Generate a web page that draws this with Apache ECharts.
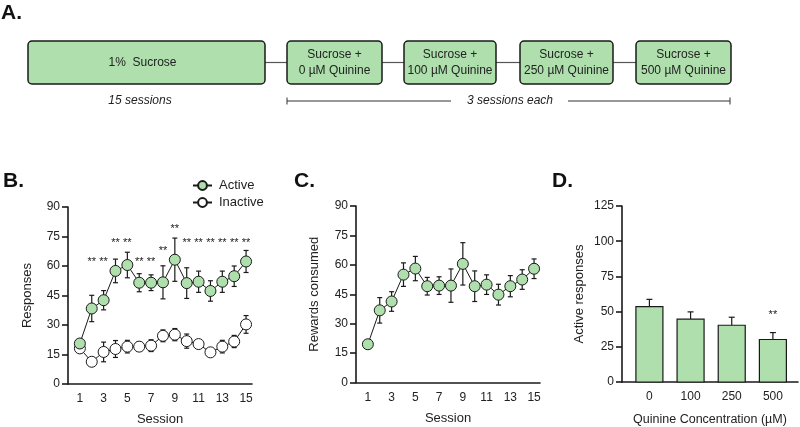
<!DOCTYPE html>
<html>
<head>
<meta charset="utf-8">
<script src="https://cdn.jsdelivr.net/npm/echarts@6/dist/echarts.min.js"></script>
<style>
html,body{margin:0;padding:0;background:#fff;}
#main{width:800px;height:427px;}
</style>
</head>
<body>
<div id="main"></div>
<script>
// ---------------- DATA ----------------
const sessions = [1, 2, 3, 4, 5, 6, 7, 8, 9, 10, 11, 12, 13, 14, 15];
const activeResp   = [20.6, 38.4, 42.6, 57.5, 60.5, 51.5, 51.5, 51.7, 63.2, 51.3, 52.0, 47.3, 52.0, 54.8, 62.3];
const activeSem    = [1.5, 6.7, 4.9, 6.0, 6.5, 4.6, 4.0, 8.4, 11.0, 7.8, 5.4, 5.2, 5.4, 5.2, 5.6];
const inactiveResp = [18.1, 11.3, 16.3, 17.8, 19.0, 19.0, 19.5, 24.5, 25.1, 21.8, 20.3, 16.1, 19.0, 21.6, 30.3];
const inactiveSem  = [1.5, 1.2, 5.0, 4.3, 3.2, 2.3, 3.0, 3.0, 3.1, 3.6, 1.2, 1.2, 3.2, 3.1, 4.5];
const sigSessions  = [2, 3, 4, 5, 6, 7, 8, 9, 10, 11, 12, 13, 14, 15];
const sigLevel     = [63.4, 63.4, 73.2, 73.2, 63.4, 63.4, 69.0, 80.4, 73.2, 73.2, 73.2, 73.2, 73.2, 73.2];
const sigLabel     = '**';

const rewards    = [19.5, 36.8, 41.3, 55.0, 58.1, 49.1, 49.4, 49.4, 60.5, 49.1, 49.9, 44.8, 49.1, 52.5, 58.0];
const rewardsSem = [1.2, 6.5, 5.0, 6.0, 6.2, 4.5, 4.5, 8.5, 10.8, 7.8, 5.0, 5.3, 5.4, 5.0, 5.0];

const quinineConc = ['0', '100', '250', '500'];
const quinineResp = [53.5, 44.6, 40.3, 30.2];
const quinineSem  = [5.2, 5.2, 5.7, 4.9];
const quinineSigIdx = [3];
const quinineSigLevel = [50];

const boxTop    = ['1%  Sucrose', 'Sucrose +', 'Sucrose +', 'Sucrose +', 'Sucrose +'];
const boxBottom = ['', '0 µM Quinine', '100 µM Quinine', '250 µM Quinine', '500 µM Quinine'];

// ---------------- STYLE ----------------
const FONT = 'Liberation Sans, Arial, Helvetica, sans-serif';
const GREEN = '#aedfad';
const INK = '#1a1a1a';
const TXT = '#222';

// ---------------- PANEL A (diagram) ----------------
const boxGeom = [[28, 237], [287, 95], [404, 92], [520, 93], [636, 95]];
const boxY = 41, boxH = 43, midY = boxY + boxH / 2;
const graphic = [];
boxGeom.forEach((g, i) => {
  graphic.push({
    type: 'rect', shape: { x: g[0], y: boxY, width: g[1], height: boxH, r: 4 },
    style: { fill: GREEN, stroke: INK, lineWidth: 1.5 }, z: 10
  });
  const cx = g[0] + g[1] / 2;
  if (boxBottom[i]) {
    graphic.push({ type: 'text', x: cx, y: midY - 8, z: 11,
      style: { text: boxTop[i], font: '12px ' + FONT, fill: TXT, align: 'center', verticalAlign: 'middle' } });
    graphic.push({ type: 'text', x: cx, y: midY + 8, z: 11,
      style: { text: boxBottom[i], font: '12px ' + FONT, fill: TXT, align: 'center', verticalAlign: 'middle' } });
  } else {
    graphic.push({ type: 'text', x: cx - 4, y: midY, z: 11,
      style: { text: boxTop[i], font: '12px ' + FONT, fill: TXT, align: 'center', verticalAlign: 'middle' } });
  }
  if (i < boxGeom.length - 1) {
    graphic.push({ type: 'line', shape: { x1: g[0] + g[1], y1: midY, x2: boxGeom[i + 1][0], y2: midY },
      style: { stroke: '#555', lineWidth: 1.2 }, z: 9 });
  }
});
graphic.push({ type: 'text', x: 140, y: 101, style: { text: '15 sessions', font: 'italic 12px ' + FONT, fill: TXT, align: 'center', verticalAlign: 'middle' } });
graphic.push({ type: 'text', x: 510, y: 101, style: { text: '3 sessions each', font: 'italic 12px ' + FONT, fill: TXT, align: 'center', verticalAlign: 'middle' } });
graphic.push({ type: 'line', shape: { x1: 287, y1: 101, x2: 451, y2: 101 }, style: { stroke: '#333', lineWidth: 1 } });
graphic.push({ type: 'line', shape: { x1: 568, y1: 101, x2: 730, y2: 101 }, style: { stroke: '#333', lineWidth: 1 } });
graphic.push({ type: 'line', shape: { x1: 287, y1: 97.5, x2: 287, y2: 104.5 }, style: { stroke: '#333', lineWidth: 1 } });
graphic.push({ type: 'line', shape: { x1: 730, y1: 97.5, x2: 730, y2: 104.5 }, style: { stroke: '#333', lineWidth: 1 } });
// panel letters
[['A.', 1, 13], ['B.', 3, 181], ['C.', 294, 181], ['D.', 552, 181]].forEach(l => {
  graphic.push({ type: 'text', x: l[1], y: l[2], style: { text: l[0], font: 'bold 21px ' + FONT, fill: '#111', align: 'left', verticalAlign: 'middle' } });
});

// ---------------- helpers ----------------
function errBars(xi, yi, xs, ys, es, upOnly, cap) {
  return {
    type: 'custom', xAxisIndex: xi, yAxisIndex: yi, z: 1, silent: true,
    encode: { x: 0, y: 1 },
    data: xs.map((x, i) => [x, ys[i], es[i]]),
    renderItem: function (params, api) {
      const x = api.value(0), y = api.value(1), e = api.value(2);
      const top = api.coord([x, y + e]);
      const bot = api.coord(upOnly ? [x, y] : [x, y - e]);
      const st = { stroke: INK, lineWidth: 1.2 };
      const ch = [
        { type: 'line', shape: { x1: top[0], y1: top[1], x2: bot[0], y2: bot[1] }, style: st },
        { type: 'line', shape: { x1: top[0] - cap, y1: top[1], x2: top[0] + cap, y2: top[1] }, style: st }
      ];
      if (!upOnly) ch.push({ type: 'line', shape: { x1: bot[0] - cap, y1: bot[1], x2: bot[0] + cap, y2: bot[1] }, style: st });
      return { type: 'group', children: ch };
    }
  };
}
function sigMarks(xi, yi, xs, ys, fs) {
  return {
    type: 'custom', xAxisIndex: xi, yAxisIndex: yi, z: 5, silent: true,
    encode: { x: 0, y: 1 },
    data: xs.map((x, i) => [x, ys[i]]),
    renderItem: function (params, api) {
      const p = api.coord([api.value(0), api.value(1)]);
      return { type: 'text', x: p[0], y: p[1] + 3,
        style: { text: sigLabel, font: fs + 'px ' + FONT, fill: INK, align: 'center', verticalAlign: 'middle' } };
    }
  };
}
function yAx(gi, max, interval, name, gap) {
  return {
    type: 'value', gridIndex: gi, min: 0, max: max, interval: interval,
    name: name, nameLocation: 'middle', nameGap: gap, nameRotate: 90,
    nameTextStyle: { fontSize: 13, color: TXT, fontFamily: FONT },
    axisLine: { show: true, onZero: false, lineStyle: { color: INK, width: 1.6 } },
    axisTick: { show: true, length: 6, lineStyle: { color: INK, width: 1.6 } },
    axisLabel: { fontSize: 12, color: TXT, fontFamily: FONT, margin: 8 },
    splitLine: { show: false }
  };
}
function xSess(gi) {
  return {
    type: 'value', gridIndex: gi, min: 0, max: 15.5, interval: 1,
    name: 'Session', nameLocation: 'middle', nameGap: 29,
    nameTextStyle: { fontSize: 13, color: TXT, fontFamily: FONT },
    axisLine: { show: true, onZero: false, lineStyle: { color: INK, width: 1.6 } },
    axisTick: { show: false },
    axisLabel: { fontSize: 12, color: TXT, fontFamily: FONT, margin: 9, showMaxLabel: false, showMinLabel: true,
      formatter: v => (Math.abs(v % 2 - 1) < 1e-6 ? String(v) : '') },
    splitLine: { show: false }
  };
}

const option = {
  animation: false,
  backgroundColor: '#fff',
  textStyle: { fontFamily: FONT },
  graphic: graphic,
  grid: [
    { left: 68, top: 207, width: 184, height: 177 },
    { left: 356, top: 206, width: 184, height: 176.5 },
    { left: 622, top: 206, width: 176, height: 176.5 }
  ],
  legend: {
    data: ['Active', 'Inactive'], orient: 'vertical', left: 187, top: 174,
    itemWidth: 19, itemHeight: 11, itemGap: 4,
    textStyle: { fontSize: 13, color: TXT, fontFamily: FONT, padding: [0, 0, 0, 2] }
  },
  xAxis: [
    xSess(0),
    xSess(1),
    {
      type: 'value', gridIndex: 2, min: -0.666, max: 3.61,
      name: 'Quinine Concentration (µM)', nameLocation: 'middle', nameGap: 31,
      nameTextStyle: { fontSize: 12.5, color: TXT, fontFamily: FONT },
      axisLine: { show: true, onZero: false, lineStyle: { color: INK, width: 1.6 } },
      axisTick: { show: false },
      axisLabel: { fontSize: 12, color: TXT, fontFamily: FONT, margin: 9,
        customValues: [0, 1, 2, 3], formatter: v => quinineConc[Math.round(v)] },
      splitLine: { show: false }
    }
  ],
  yAxis: [
    yAx(0, 90, 15, 'Responses', 34),
    yAx(1, 90, 15, 'Rewards consumed', 35),
    yAx(2, 125, 25, 'Active responses', 36)
  ],
  series: [
    errBars(0, 0, sessions, inactiveResp, inactiveSem, false, 2.5),
    errBars(0, 0, sessions, activeResp, activeSem, false, 2.5),
    {
      name: 'Inactive', type: 'line', xAxisIndex: 0, yAxisIndex: 0, z: 3,
      data: sessions.map((s, i) => [s, inactiveResp[i]]),
      symbol: 'circle', symbolSize: 11,
      itemStyle: { color: '#ffffff', borderColor: INK, borderWidth: 1 },
      lineStyle: { color: INK, width: 1 }
    },
    {
      name: 'Active', type: 'line', xAxisIndex: 0, yAxisIndex: 0, z: 4,
      data: sessions.map((s, i) => [s, activeResp[i]]),
      symbol: 'circle', symbolSize: 11,
      itemStyle: { color: GREEN, borderColor: INK, borderWidth: 1 },
      lineStyle: { color: INK, width: 1 }
    },
    sigMarks(0, 0, sigSessions, sigLevel, 11),
    errBars(1, 1, sessions, rewards, rewardsSem, false, 2.5),
    {
      name: 'Rewards', type: 'line', xAxisIndex: 1, yAxisIndex: 1, z: 4,
      data: sessions.map((s, i) => [s, rewards[i]]),
      symbol: 'circle', symbolSize: 11,
      itemStyle: { color: GREEN, borderColor: INK, borderWidth: 1 },
      lineStyle: { color: INK, width: 1 }
    },
    {
      type: 'custom', xAxisIndex: 2, yAxisIndex: 2, z: 2, silent: true,
      encode: { x: 0, y: 1 },
      data: quinineResp.map((v, i) => [i, v]),
      renderItem: function (params, api) {
        const top = api.coord([api.value(0), api.value(1)]);
        const base = api.coord([api.value(0), 0]);
        const w = 27;
        return { type: 'rect', shape: { x: top[0] - w / 2, y: top[1], width: w, height: base[1] - top[1] },
          style: { fill: GREEN, stroke: INK, lineWidth: 1.2 } };
      }
    },
    errBars(2, 2, quinineResp.map((v, i) => i), quinineResp, quinineSem, true, 3),
    sigMarks(2, 2, quinineSigIdx, quinineSigLevel, 11)
  ]
};

const chart = echarts.init(document.getElementById('main'), null, { renderer: 'canvas' });
chart.setOption(option);
</script>
</body>
</html>
